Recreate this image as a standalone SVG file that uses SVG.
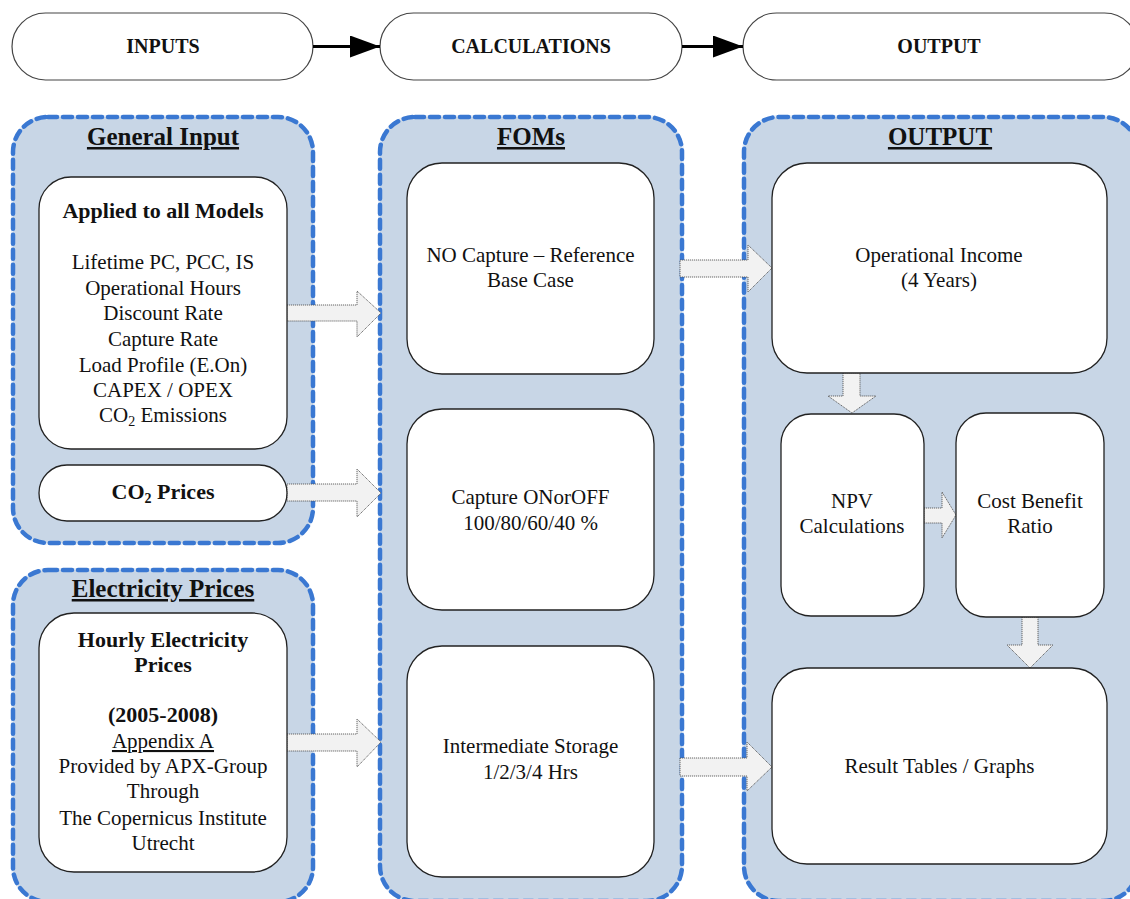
<svg xmlns="http://www.w3.org/2000/svg" width="1130" height="899" viewBox="0 0 1130 899">
<defs>
<style>
.panel{fill:#C8D6E6;stroke:#3A78D2;stroke-width:4.5;stroke-dasharray:9 6;stroke-linecap:round}
.panelbg{fill:none;stroke:#E6EDF6;stroke-width:4}
.pill{fill:#fff;stroke:#444;stroke-width:1.2}
.box{fill:#fff;stroke:#222;stroke-width:1.3}
.barrow{fill:#F2F2F2;stroke:#555;stroke-width:0.9;stroke-dasharray:1.2 0.8}
text{font-family:"Liberation Serif","Times New Roman",serif;fill:#111;text-anchor:middle}
.ptitle{font-size:20px;font-weight:bold}
.head{font-size:25px;font-weight:bold;text-decoration:underline}
.b{font-size:22px;font-weight:bold}
.r{font-size:21px}
.sub{font-size:14px}
.flow{stroke:#000;stroke-width:3;fill:none}
</style>
<marker id="ah" markerUnits="userSpaceOnUse" markerWidth="30" markerHeight="22" refX="30" refY="11" orient="auto">
<path d="M0,0 L30,11 L0,22 Z" fill="#000"/>
</marker>
</defs>

<g id="pill-inputs">
<rect class="pill" x="12" y="13" width="301" height="67" rx="33.5"/>
<text class="ptitle" x="163" y="53">INPUTS</text>
</g>
<g id="pill-calculations">
<rect class="pill" x="380" y="13" width="302" height="67" rx="33.5"/>
<text class="ptitle" x="531" y="53">CALCULATIONS</text>
</g>
<g id="pill-output">
<rect class="pill" x="743" y="13" width="395" height="67" rx="33.5"/>
<text class="ptitle" x="939" y="53">OUTPUT</text>
</g>

<g id="panel-general">
<rect class="panelbg" x="13" y="117" width="300" height="426" rx="35"/>
<rect class="panel" x="13" y="117" width="300" height="426" rx="35"/>
<text class="head" x="163" y="145">General Input</text>
</g>
<g id="panel-electricity">
<rect class="panelbg" x="13" y="570" width="300" height="332" rx="35"/>
<rect class="panel" x="13" y="570" width="300" height="332" rx="35"/>
<text class="head" x="163" y="597">Electricity Prices</text>
</g>
<g id="panel-foms">
<rect class="panelbg" x="380" y="117" width="302" height="784" rx="35"/>
<rect class="panel" x="380" y="117" width="302" height="784" rx="35"/>
<text class="head" x="531" y="145">FOMs</text>
</g>
<g id="panel-output">
<rect class="panelbg" x="744" y="117" width="394" height="784" rx="35"/>
<rect class="panel" x="744" y="117" width="394" height="784" rx="35"/>
<text class="head" x="940" y="145">OUTPUT</text>
</g>

<g id="connectors">
<line class="flow" x1="313" y1="46.5" x2="380" y2="46.5" marker-end="url(#ah)"/>
<line class="flow" x1="682" y1="46.5" x2="743" y2="46.5" marker-end="url(#ah)"/>
<path class="barrow" d="M287,305 H357 V291 L381,313 L357,337 V321 H287 Z"/>
<path class="barrow" d="M287,484 H357 V469 L381,493 L357,517 V501 H287 Z"/>
<path class="barrow" d="M287,734 H357 V719 L381,742 L357,767 V751 H287 Z"/>
<path class="barrow" d="M680,260 H748 V245 L772,268 L748,292 V277 H680 Z"/>
<path class="barrow" d="M680,758 H747 V742 L772,767 L747,791 V776 H680 Z"/>
<path class="barrow" d="M843,373 V396 H828 L852,413 L876,396 H860 V373 Z"/>
<path class="barrow" d="M924,508 H942 V492 L956,515 L942,538 V523 H924 Z"/>
<path class="barrow" d="M1022,617 V645 H1007 L1030,668 L1053,645 H1038 V617 Z"/>
</g>

<g id="node-applied">
<rect class="box" x="39" y="177" width="248" height="272" rx="32"/>
<text class="b" x="163" y="218">Applied to all Models</text>
<text class="r" x="163" y="269">Lifetime PC, PCC, IS</text>
<text class="r" x="163" y="294.5">Operational Hours</text>
<text class="r" x="163" y="320">Discount Rate</text>
<text class="r" x="163" y="346">Capture Rate</text>
<text class="r" x="163" y="371.5">Load Profile (E.On)</text>
<text class="r" x="163" y="397">CAPEX / OPEX</text>
<text class="r" x="163" y="422">CO<tspan class="sub" dy="4">2</tspan><tspan dy="-4"> Emissions</tspan></text>
</g>
<g id="node-co2">
<rect class="box" x="39" y="465" width="248" height="56" rx="28"/>
<text class="b" x="163" y="499">CO<tspan class="sub" dy="4">2</tspan><tspan dy="-4"> Prices</tspan></text>
</g>
<g id="node-hourly">
<rect class="box" x="39" y="613" width="248" height="259" rx="35"/>
<text class="b" x="163" y="647">Hourly Electricity</text>
<text class="b" x="163" y="672">Prices</text>
<text class="b" x="163" y="722">(2005-2008)</text>
<text class="r" x="163" y="748" text-decoration="underline">Appendix A</text>
<text class="r" x="163" y="773">Provided by APX-Group</text>
<text class="r" x="163" y="798">Through</text>
<text class="r" x="163" y="825">The Copernicus Institute</text>
<text class="r" x="163" y="850">Utrecht</text>
</g>

<g id="node-nocapture">
<rect class="box" x="407" y="163" width="247" height="211" rx="35"/>
<text class="r" x="530.5" y="262">NO Capture – Reference</text>
<text class="r" x="530.5" y="287">Base Case</text>
</g>
<g id="node-capture">
<rect class="box" x="407" y="409" width="247" height="201" rx="35"/>
<text class="r" x="530.5" y="504">Capture ONorOFF</text>
<text class="r" x="530.5" y="530">100/80/60/40 %</text>
</g>
<g id="node-storage">
<rect class="box" x="407" y="646" width="247" height="231" rx="35"/>
<text class="r" x="530.5" y="753">Intermediate Storage</text>
<text class="r" x="530.5" y="779">1/2/3/4 Hrs</text>
</g>

<g id="node-income">
<rect class="box" x="772" y="163" width="335" height="210" rx="35"/>
<text class="r" x="939" y="262">Operational Income</text>
<text class="r" x="939" y="287">(4 Years)</text>
</g>
<g id="node-npv">
<rect class="box" x="781" y="414" width="143" height="202" rx="30"/>
<text class="r" x="852" y="508">NPV</text>
<text class="r" x="852" y="533">Calculations</text>
</g>
<g id="node-cbr">
<rect class="box" x="956" y="413" width="148" height="204" rx="30"/>
<text class="r" x="1030" y="508">Cost Benefit</text>
<text class="r" x="1030" y="533">Ratio</text>
</g>
<g id="node-results">
<rect class="box" x="772" y="668" width="335" height="196" rx="35"/>
<text class="r" x="939.5" y="773">Result Tables / Graphs</text>
</g>
</svg>
